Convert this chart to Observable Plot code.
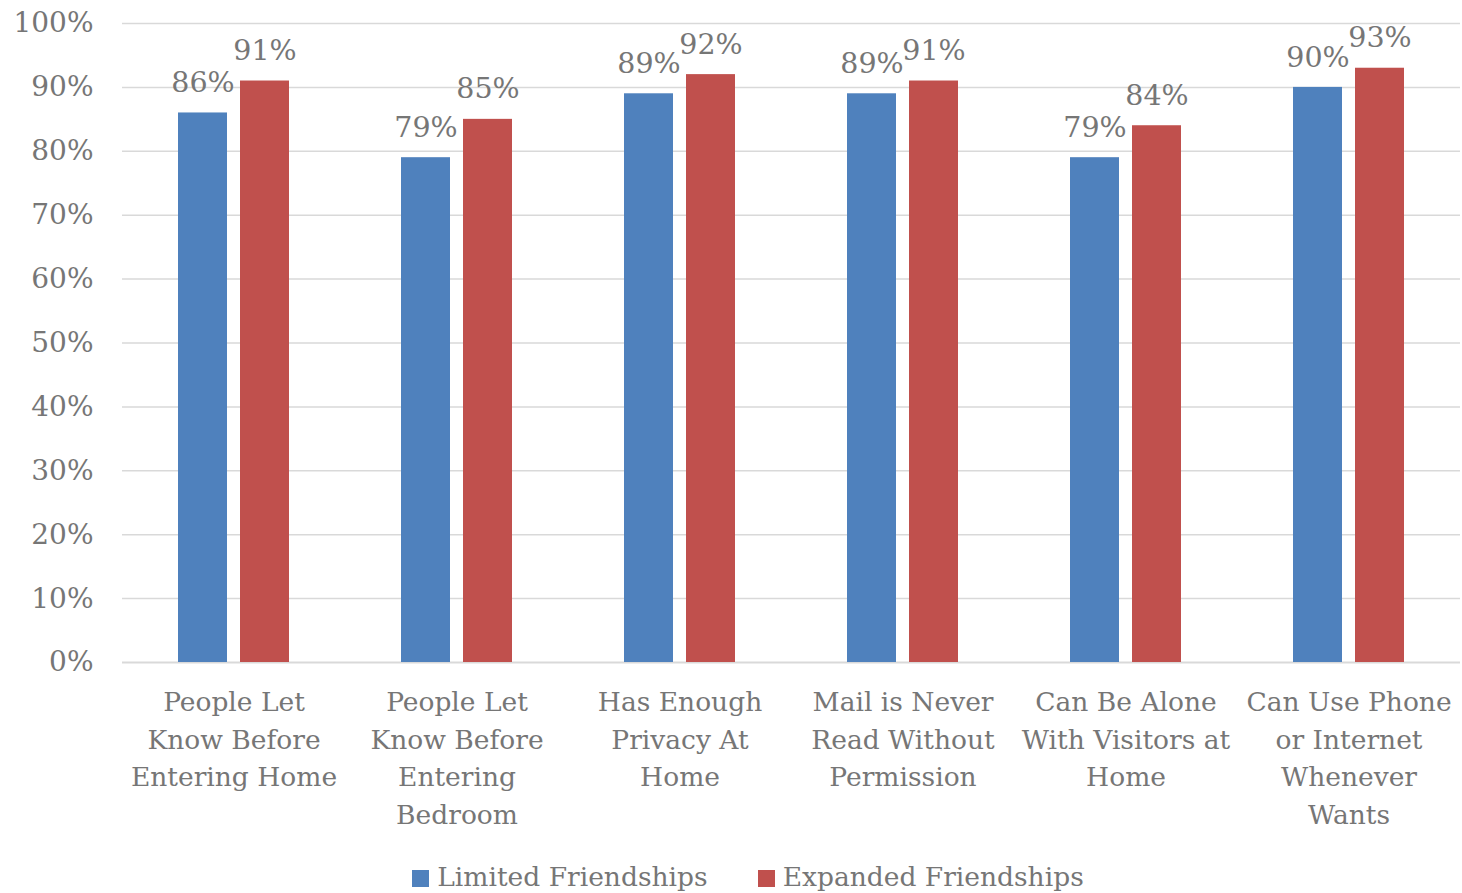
<!DOCTYPE html>
<html><head><meta charset="utf-8">
<script src="https://cdn.jsdelivr.net/npm/d3@7"></script>
<script src="https://cdn.jsdelivr.net/npm/@observablehq/plot@0.6"></script>
<style>
body{margin:0;background:#fff;font-family:"DejaVu Serif",serif;}
#legend{display:flex;justify-content:center;gap:50px;font-size:26.5px;color:#767676;margin-left:34px;height:43px;align-items:center;margin-top:5px}
#legend span.sw{display:inline-block;width:17px;height:17px;margin-right:8px;vertical-align:middle;position:relative;top:-1px}
</style></head><body>
<div id="chart"></div>
<div id="legend"></div>
<script>
const categories = ["People Let\nKnow Before\nEntering Home","People Let\nKnow Before\nEntering\nBedroom","Has Enough\nPrivacy At\nHome","Mail is Never\nRead Without\nPermission","Can Be Alone\nWith Visitors at\nHome","Can Use Phone\nor Internet\nWhenever\nWants"];
const seriesNames = ["Limited Friendships","Expanded Friendships"];
const limited = [86,79,89,89,79,90];
const expanded = [91,85,92,91,84,93];
const colors = ["#4F81BD","#C0504D"];
const yTicks = [0,10,20,30,40,50,60,70,80,90,100];

const data = [];
categories.forEach((c,i)=>{
  data.push({cat:c, series:seriesNames[0], value:limited[i]});
  data.push({cat:c, series:seriesNames[1], value:expanded[i]});
});

const chart = Plot.plot({
  width:1462, height:850,
  marginLeft:122, marginRight:2, marginTop:23, marginBottom:188,
  style:{fontFamily:"DejaVu Serif, serif", fontSize:"26px", color:"#767676", background:"#fff"},
  fx:{domain:categories, padding:0, label:null},
  x:{domain:seriesNames, paddingInner:0.206, paddingOuter:0.873, axis:null},
  y:{domain:[0,100], ticks:yTicks, label:null},
  color:{domain:seriesNames, range:colors},
  marks:[
    Plot.gridY(yTicks.filter(d=>d>0),{stroke:"#d9d9d9", strokeOpacity:1, strokeWidth:1.5}),
    Plot.ruleY([0],{stroke:"#d9d9d9", strokeWidth:2}),
    Plot.axisY({ticks:yTicks, tickSize:0, tickPadding:29, tickFormat:d=>d+"%", fontSize:28, fill:"#767676"}),
    Plot.barY(data,{fx:"cat", x:"series", y:"value", fill:"series"}),
    Plot.text(data,{fx:"cat", x:"series", y:"value", text:d=>d.value+"%", dy:-30, fontSize:28.5, fill:"#767676"}),
    Plot.axisFx({tickSize:0, tickPadding:22, lineHeight:1.42, fontSize:26.5, fill:"#767676", label:null, anchor:"bottom"})
  ]
});
document.getElementById("chart").appendChild(chart);

const leg = document.getElementById("legend");
seriesNames.forEach((s,i)=>{
  const d = document.createElement("div");
  d.innerHTML = `<span class="sw" style="background:${colors[i]}"></span>${s}`;
  leg.appendChild(d);
});
</script>
</body></html>
